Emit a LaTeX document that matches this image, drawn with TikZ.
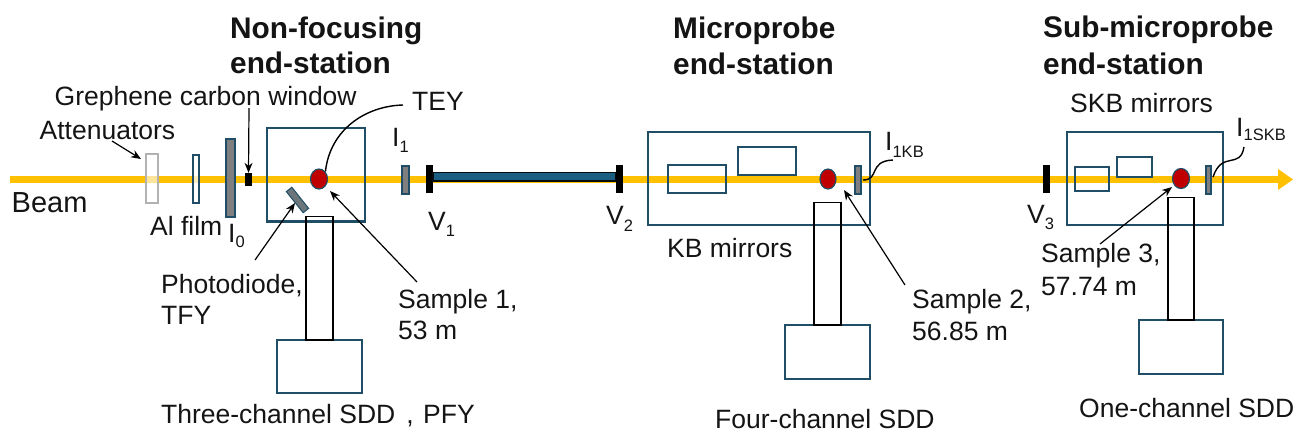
\documentclass[tikz,border=0pt]{standalone}
\usepackage{fontspec}
\setmainfont{Liberation Sans}
\usetikzlibrary{arrows.meta,shapes.geometric}
\definecolor{navy}{HTML}{1F4E66}
\definecolor{beamc}{HTML}{FFC000}
\definecolor{tube}{HTML}{1A5F82}
\definecolor{samplered}{HTML}{C00000}
\definecolor{midgray}{HTML}{7F7F7F}
\newcommand{\lowered}[2]{\raisebox{-#1pt}{\fontsize{16.5}{18}\selectfont #2}}
\tikzset{
  lbl/.style={anchor=base west,inner sep=0pt,font=\fontsize{26.5}{30}\selectfont,text=black!92},
  head/.style={anchor=base west,inner sep=0pt,font=\fontsize{29.8}{34}\selectfont\bfseries,text=black!92},
  chamber/.style={draw=navy,line width=2.7pt,fill=none},
  mirror/.style={draw=navy,line width=1.1pt,fill=none},
  det/.style={draw=navy,line width=1.6pt,fill=white},
  snout/.style={draw=black,line width=1.6pt,fill=none},
  sample/.style={ellipse,draw=navy,line width=1.2pt,fill=samplered,inner sep=0pt,minimum width=17pt,minimum height=20pt},
  monitor/.style={draw=navy,line width=1.2pt,fill=midgray},
  pointer/.style={draw=black,line width=1.2pt,-{Stealth[length=10pt,width=8pt]}},
  lead/.style={draw=black,line width=1.4pt},
}
\begin{document}
\begin{tikzpicture}[x=1pt,y=-1pt]
\useasboundingbox (0,0) rectangle (1293,432);
% beam
\coordinate (beamstart) at (10,179);
\coordinate (beamend) at (1280,179);
\draw[beamc,line width=7pt] (beamstart) -- (beamend);
\fill[beamc] (1278,169) -- (1293,179.5) -- (1278,190) -- cycle;
% first station
\draw[draw=black!30,line width=1.3pt,fill=white,fill opacity=.6] (146,154) rectangle (158,203);
\draw[draw=navy,line width=1.2pt,fill=white,fill opacity=.75] (193,155) rectangle (199,203);
\draw[draw=navy,line width=1.2pt,fill=midgray] (226,139) rectangle (235,217);
\fill[black] (245,173) rectangle (252,186);
\node[inner sep=0pt,minimum size=0pt] (gw) at (248.5,173) {};
\draw[chamber] (267,128) rectangle (365,221.5);
\node[draw=navy,line width=1pt,fill=midgray!80!navy,rotate=-51.6,minimum width=27pt,minimum height=7pt,inner sep=0pt] (pd) at (297.5,200) {};
\node[sample] (s1) at (319,179) {};
\draw[det] (277,340) rectangle (362,393);
\draw[snout] (306,216.5) rectangle (333,340);
\draw[lead] (s1.north east) .. controls (330,130) and (365,106) .. (403,105);
% between
\draw[monitor] (402,166) rectangle (409,194);
\fill[black] (426,165) rectangle (433,193);
\draw[fill=tube,draw=black!85!navy,line width=1.2pt] (433,172.5) rectangle (616,181);
\fill[black] (616,165) rectangle (623,193);
% second station
\draw[chamber] (648,132) rectangle (870,225);
\draw[mirror] (668,165) rectangle (726,193);
\draw[mirror] (738,147) rectangle (796,175);
\node[sample,minimum width=16pt] (s2) at (828,179) {};
\draw[monitor] (855,166) rectangle (861,194);
\draw[det] (785,325) rectangle (870,379);
\draw[snout] (814,202.5) rectangle (841,325);
\draw[lead] (863,180) .. controls (880,180) and (868,161) .. (893,160);
% third station
\fill[black] (1043,165) rectangle (1050,193);
\draw[chamber] (1067,132) rectangle (1223,225);
\draw[mirror] (1075,167) rectangle (1109,191);
\draw[mirror] (1117,157) rectangle (1152,177);
\node[sample] (s3) at (1181,178.5) {};
\draw[monitor] (1206,166) rectangle (1211,194);
\draw[det] (1139,320) rectangle (1223,374);
\draw[snout] (1168,197.5) rectangle (1194,320);
\draw[lead] (1213,177) .. controls (1222,150) and (1240,170) .. (1244,147);
% texts
\node[head] at (230,38) {Non-focusing};
\node[head] at (230,73.5) {end-station};
\node[head] at (673,38) {Microprobe};
\node[head] at (673,74) {end-station};
\node[head] at (1043,37.5) {Sub-microprobe};
\node[head] at (1043,74) {end-station};
\node[lbl] (gr) at (54.5,105) {Grephene carbon window};
\node[lbl] (att) at (39.5,139.5) {Attenuators};
\node[lbl] at (412,110) {TEY};
\node[lbl] at (392,146) {I\lowered{6}{1}};
\node[lbl,font=\fontsize{29}{33}\selectfont] at (11.5,212) {Beam};
\node[lbl] at (150,235) {Al film};
\node[lbl] at (228,242) {I\lowered{5}{0}};
\node[lbl] (pdt) at (161,293) {Photodiode,};
\node[lbl] at (161,324) {TFY};
\node[lbl] (st1) at (398,308) {Sample 1,};
\node[lbl] at (398,339) {53 m};
\node[lbl] at (428,230) {V\lowered{6}{1}};
\node[lbl] at (606,224) {V\lowered{7}{2}};
\node[lbl] at (667,257) {KB mirrors};
\node[lbl] (st2) at (912,308) {Sample 2,};
\node[lbl] at (912,340) {56.85 m};
\node[lbl] at (1027,223) {V\lowered{6}{3}};
\node[lbl] (st3) at (1041,262) {Sample 3,};
\node[lbl] at (1041,295) {57.74 m};
\node[lbl] at (1070,112) {SKB mirrors};
\node[lbl] at (885,150) {I\lowered{7}{1KB}};
\node[lbl] at (1236,136) {I\lowered{4}{1SKB}};
\node[lbl] at (161,423) {Three-channel SDD\hspace{11pt},\hspace{9.5pt}PFY};
\node[lbl] at (715,428) {Four-channel SDD};
\node[lbl] at (1079,417) {One-channel SDD};
% pointers
\coordinate (a1) at (112,141);
\coordinate (a1e) at (141,159);
\coordinate (g1) at (249,108);
\coordinate (p1) at (255,260);
\coordinate (p1e) at (295,203);
\coordinate (t1) at (417,282);
\coordinate (t1e) at (330,191);
\coordinate (t2) at (905,285);
\coordinate (t2e) at (844,190);
\coordinate (t3) at (1100,244);
\coordinate (t3e) at (1172,187);
\draw[pointer] (a1) -- (a1e);
\draw[pointer] (g1) -- (gw);
\draw[pointer] (p1) -- (p1e);
\draw[pointer] (t1) -- (t1e);
\draw[pointer] (t2) -- (t2e);
\draw[pointer] (t3) -- (t3e);
\end{tikzpicture}
\end{document}
